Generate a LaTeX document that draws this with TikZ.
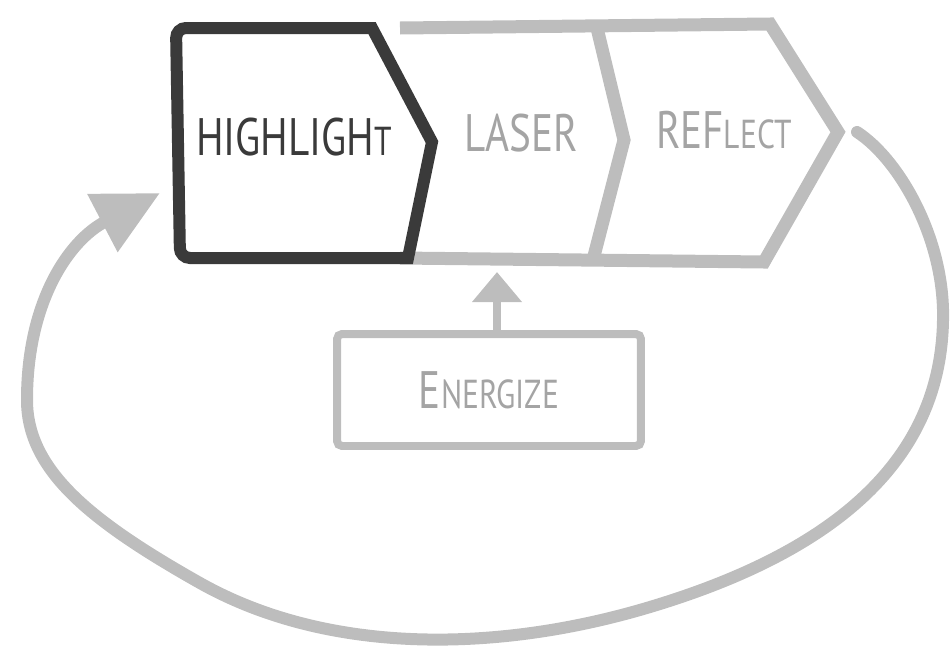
\documentclass[tikz,border=0pt]{standalone}
\usepackage{fontspec}
\newfontfamily\handfont[FakeStretch=0.78]{PT Sans}
\usetikzlibrary{arrows.meta,positioning}
\definecolor{inkdark}{HTML}{3A3A3A}
\definecolor{inkgray}{HTML}{BDBDBD}
\definecolor{textgray}{HTML}{A4A4A4}
\newcommand{\smallcap}[1]{{\fontsize{23}{24}\selectfont #1}}
\tikzset{
  stagelabel/.style={font=\handfont\fontsize{30}{31}\selectfont, inner sep=0pt},
  activeline/.style={draw=inkdark, line width=0.24cm},
  chevronline/.style={draw=inkgray, line width=0.26cm},
  energybox/.style={draw=inkgray, line width=0.16cm, rounded corners=0.1cm, minimum width=6.08cm, minimum height=2.24cm, inner sep=0pt},
  pusharrow/.style={draw=inkgray, line width=0.16cm, -{Triangle[length=0.6cm, width=0.96cm]}},
  loopflow/.style={draw=inkgray, line width=0.24cm, line cap=round, -{Triangle[length=1.3cm, width=1.25cm]}}
}

\begin{document}
\begin{tikzpicture}[x=0.02cm, y=-0.02cm]
  \useasboundingbox (0,0) rectangle (952,656);

  % chevron outline of the three stages
  \draw[chevronline] (400,28) -- (770,24) -- (838,132) -- (764,262) -- (400,258);
  \draw[chevronline] (597,28) -- (624,140) -- (594,256);
  \draw[activeline] (372,28) -- (432,142) -- (408,258)
    [rounded corners=0.2cm] -- (180,258) -- (176,28) [sharp corners] -- cycle;

  \node[stagelabel, text=inkdark] (highlight) at (294,137) {HIGHLIGH\smallcap{T}};
  \node[stagelabel, text=textgray] (laser) at (521,133) {LASER};
  \node[stagelabel, text=textgray] (reflect) at (724,130) {REF\smallcap{LECT}};
  \node[energybox, stagelabel, text=textgray] (energize) at (489,390) {E\smallcap{NERGIZE}};

  \coordinate (laserbase) at (497,272);
  \draw[pusharrow] (energize.north -| laserbase) -- (laserbase);

  % feedback loop back to the first stage
  \coordinate (loopstart) at (857,132);
  \coordinate (looptip) at (160,193);
  \draw[loopflow] (loopstart) .. controls (900,160) and (945,240) .. (943,320)
    .. controls (941,450) and (850,547) .. (650,607)
    .. controls (500,652) and (330,656) .. (200,583)
    .. controls (90,521) and (27,470) .. (27,400)
    .. controls (27,300) and (70,240) .. (looptip);
\end{tikzpicture}
\end{document}
